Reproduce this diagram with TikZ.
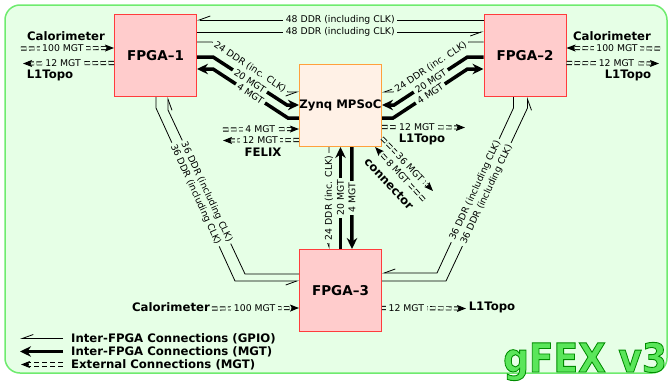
\documentclass[tikz,border=0pt]{standalone}
\usepackage{fontspec}
\setmainfont{DejaVu Sans}
\usetikzlibrary{arrows.meta,calc}
\definecolor{bg}{RGB}{230,255,230}
\definecolor{bgborder}{RGB}{110,235,110}
\definecolor{fpgafill}{RGB}{255,204,204}
\definecolor{fpgared}{RGB}{255,60,60}
\definecolor{zfill}{RGB}{255,241,230}
\definecolor{zorange}{RGB}{255,160,60}
\definecolor{gfexgreen}{RGB}{90,230,90}
\newcommand\smallfont{\fontsize{9.3}{11}\selectfont}
\newcommand\boldsmall{\fontsize{11.7}{13}\selectfont\bfseries}
\newcommand\fpgafont{\fontsize{13.5}{15}\selectfont\bfseries}
\newcommand\extconn[5][]{%
  \draw[ext] (#2) -- node[lab,pos=#4,#1]{#5} (#3);
  \draw[exttip] ($(#3)!8pt!(#2)$) -- (#3);}
\newcommand\outlinetext[1]{\special{pdf:literal 0 0.55 0 RG 0.9 w 2 Tr}#1\special{pdf:literal 0 Tr}}
\tikzset{
  box/.style={draw, line width=1pt, minimum width=82pt, minimum height=82pt, inner sep=0pt},
  fpga/.style={box, draw=fpgared, fill=fpgafill, font=\fpgafont},
  zynqbox/.style={box, draw=zorange, fill=zfill, font=\boldsmall},
  gpio/.style={draw=black, line width=0.8pt, -{Straight Barb[harpoon,swap,length=11pt,width=8pt]}},
  mgt/.style={draw=black, line width=3.5pt, -{Stealth[length=11pt,width=10.5pt]}},
  ext/.style={draw=black, line width=0.9pt, double=bg, double distance=2.3pt, dash pattern=on 5.5pt off 2.5pt, shorten >=6pt},
  exttip/.style={draw=black, line width=1pt, -{Stealth[length=9pt,width=7pt,inset=2pt]}},
  lab/.style={fill=bg, inner xsep=2.5pt, inner ysep=0.5pt, font=\smallfont},
  blab/.style={font=\boldsmall, inner sep=0pt},
}
\begin{document}
\begin{tikzpicture}[x=1pt,y=-1pt]
\useasboundingbox (0,0) rectangle (670,383);
\draw[bgborder, fill=bg, line width=1.5pt, rounded corners=15pt] (5,5) rectangle (667,373);

% boxes
\node[fpga] (f1) at (155.5,55.5) {FPGA–1};
\node[fpga] (f2) at (525,55.5) {FPGA–2};
\node[zynqbox] (zy) at (340.5,105.5) {Zynq MPSoC};
\node[fpga] (f3) at (340.5,290.5) {FPGA–3};

% FPGA-1 <-> FPGA-2
\draw[gpio] ([yshift=-6pt]f2.north west) -- node[lab]{48 DDR (including CLK)} ([yshift=-6pt]f1.north east);
\draw[gpio] ([yshift=-18pt]f1.north east) -- node[lab]{48 DDR (including CLK)} ([yshift=-18pt]f2.north west);

% FPGA-1 <-> Zynq
\draw[gpio] ([yshift=-28pt]f1.north east) -- ++(15,0) -- node[lab,sloped]{24 DDR (inc. CLK)} ($([yshift=-28pt]zy.north west)+(-11,0)$) -- ([yshift=-28pt]zy.north west);
\draw[mgt] ([yshift=-43pt]f1.north east) -- ++(16,0) -- node[lab,sloped]{20 MGT} ($([yshift=-41pt]zy.north west)+(-12,0)$) -- ([yshift=-41pt]zy.north west);
\draw[mgt] ([yshift=-54pt]zy.north west) -- ++(-11,0) -- node[lab,sloped]{4 MGT} ($([yshift=-55pt]f1.north east)+(16,0)$) -- ([yshift=-55pt]f1.north east);

% FPGA-2 <-> Zynq
\draw[gpio] ([yshift=-28pt]f2.north west) -- ++(-15,0) -- node[lab,sloped]{24 DDR (inc. CLK)} ($([yshift=-28pt]zy.north east)+(11,0)$) -- ([yshift=-28pt]zy.north east);
\draw[mgt] ([yshift=-43pt]f2.north west) -- ++(-16,0) -- node[lab,sloped]{20 MGT} ($([yshift=-41pt]zy.north east)+(12,0)$) -- ([yshift=-41pt]zy.north east);
\draw[mgt] ([yshift=-54pt]zy.north east) -- ++(11,0) -- node[lab,sloped]{4 MGT} ($([yshift=-55pt]f2.north west)+(-16,0)$) -- ([yshift=-55pt]f2.north west);

% FPGA-1 <-> FPGA-3
\draw[gpio] ([xshift=42pt]f1.south west) -- ++(0,11) -- node[lab,sloped]{36 DDR (including CLK)} ($([yshift=-32pt]f3.north west)+(-64,0)$) -- ([yshift=-32pt]f3.north west);
\draw[gpio] ([yshift=-25pt]f3.north west) -- ++(-54,0) -- node[lab,sloped]{36 DDR (including CLK)} ($([xshift=54pt]f1.south west)+(0,13)$) -- ([xshift=54pt]f1.south west);

% FPGA-2 <-> FPGA-3
\draw[gpio] ([xshift=30pt]f2.south west) -- ++(0,11) -- node[lab,sloped]{36 DDR (including CLK)} ($([yshift=-24pt]f3.north east)+(55,0)$) -- ([yshift=-24pt]f3.north east);
\draw[gpio] ([yshift=-32pt]f3.north east) -- ++(64,0) -- node[lab,sloped]{36 DDR (including CLK)} ($([xshift=44pt]f2.south west)+(0,11)$) -- ([xshift=44pt]f2.south west);

% Zynq <-> FPGA-3
\draw[gpio] ([xshift=30pt]zy.south west) -- node[lab,rotate=90]{24 DDR (inc. CLK)} ([xshift=30pt]f3.north west);
\draw[mgt] (f3.north) -- node[lab,rotate=90]{20 MGT} (zy.south);
\draw[mgt] ([xshift=53pt]zy.south west) -- node[lab,rotate=90]{4 MGT} ([xshift=53pt]f3.north west);

% external labels
\node[blab] (calA) at (66,36) {Calorimeter};
\node[blab] (l1A) at (50,75) {L1Topo};
\node[blab] (calB) at (612,36) {Calorimeter};
\node[blab] (l1B) at (628,75) {L1Topo};
\node[blab] (felix) at (263,152) {FELIX};
\node[blab] (l1Z) at (422,139) {L1Topo};
\node[blab, rotate=-47] (conn) at (389,184) {connector};
\node[blab] (calC) at (171,307) {Calorimeter};
\node[blab] (l1C) at (492,307) {L1Topo};

% external coordinates
\coordinate (e1s) at (21,48.5);   \coordinate (e1e) at ([yshift=-34pt]f1.north west);
\coordinate (e2s) at ([yshift=-49pt]f1.north west); \coordinate (e2e) at (23,63.5);
\coordinate (e3s) at (660,48.5);  \coordinate (e3e) at ([yshift=-34pt]f2.north east);
\coordinate (e4s) at ([yshift=-49pt]f2.north east); \coordinate (e4e) at (659,63.5);
\coordinate (e5s) at (223,129.5); \coordinate (e5e) at ([yshift=-65pt]zy.north west);
\coordinate (e6s) at ([yshift=-76pt]zy.north west); \coordinate (e6e) at (223,140.5);
\coordinate (e7s) at ([yshift=-63pt]zy.north east); \coordinate (e7e) at (465,127.5);
\coordinate (e8s) at ([yshift=-74pt]zy.north east); \coordinate (e8e) at (433,191);
\coordinate (e9s) at (424,200);   \coordinate (e9e) at ([xshift=-7pt]zy.south east);
\coordinate (e10s) at (212,308.5); \coordinate (e10e) at ([yshift=-59pt]f3.north west);
\coordinate (e11s) at ([yshift=-59pt]f3.north east); \coordinate (e11e) at (466,308.5);

\extconn{e1s}{e1e}{.45}{100 MGT}
\extconn{e2s}{e2e}{.56}{12 MGT}
\extconn{e3s}{e3e}{.46}{100 MGT}
\extconn{e4s}{e4e}{.54}{12 MGT}
\extconn{e5s}{e5e}{.49}{4 MGT}
\extconn{e6s}{e6e}{.51}{12 MGT}
\extconn{e7s}{e7e}{.42}{12 MGT}
\extconn[sloped]{e8s}{e8e}{.55}{36 MGT}
\extconn[sloped]{e9s}{e9e}{.53}{8 MGT}
\extconn{e10s}{e10e}{.49}{100 MGT}
\extconn{e11s}{e11e}{.29}{12 MGT}

% legend
\coordinate (lg1a) at (63,338.5); \coordinate (lg1b) at (20,338.5);
\coordinate (lg2a) at (63,351.5); \coordinate (lg2b) at (20,351.5);
\coordinate (lg3a) at (63,364.5); \coordinate (lg3b) at (21,364.5);
\draw[gpio] (lg1a) -- (lg1b);
\draw[mgt] (lg2a) -- (lg2b);
\draw[ext] (lg3a) -- (lg3b);
\draw[exttip] ($(lg3b)!8pt!(lg3a)$) -- (lg3b);
\node[blab, anchor=west] (lt1) at (71,338.5) {Inter-FPGA Connections (GPIO)};
\node[blab, anchor=west] (lt2) at (71,351.5) {Inter-FPGA Connections (MGT)};
\node[blab, anchor=west] (lt3) at (71,364.5) {External Connections (MGT)};

% logo
\node[font=\fontsize{40}{40}\selectfont\bfseries, text=gfexgreen, xscale=0.9, anchor=base west, inner sep=0pt] (logo) at (503,372) {\outlinetext{gFEX v3}};
\end{tikzpicture}
\end{document}
